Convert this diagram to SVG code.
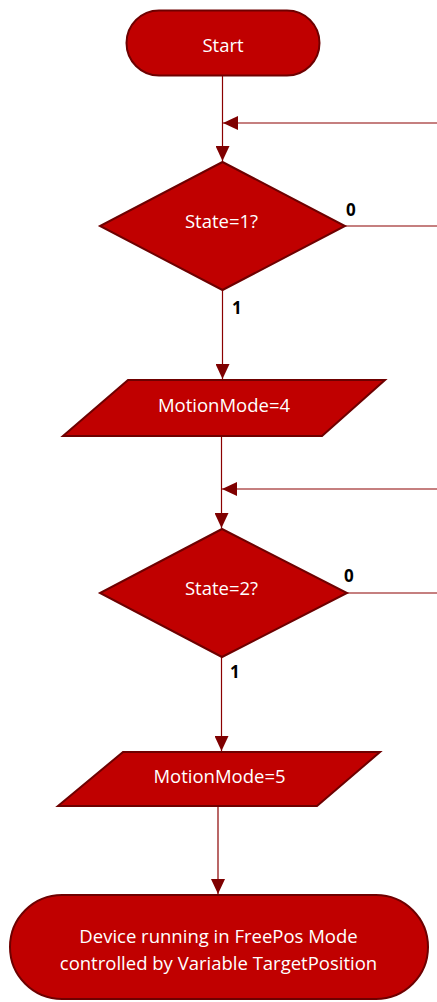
<svg xmlns="http://www.w3.org/2000/svg" width="437" height="1002" viewBox="0 0 437 1002">
<style>
.node{fill:#C00000;stroke:#6E0000;stroke-width:2}
.t{font-family:"Open Sans","Liberation Sans",sans-serif;font-size:18.5px;fill:#FFFFFF;text-anchor:middle}
.lbl{font-family:"Open Sans","Liberation Sans",sans-serif;font-size:17px;font-weight:bold;fill:#000000}
.c{fill:none;stroke:#8B0000;stroke-width:1.2}
</style>
<defs>
<marker id="ah" markerUnits="userSpaceOnUse" markerWidth="16" markerHeight="14" refX="15" refY="7" orient="auto">
<path d="M0,0 L15,7 L0,14 Z" fill="#7F0000"/>
</marker>
</defs>
<g id="connectors">
<path class="c" d="M222.5,75 V161" marker-end="url(#ah)"/>
<path class="c" d="M437,123 H223" marker-end="url(#ah)"/>
<path class="c" d="M345,226 H437"/>
<path class="c" d="M222.5,290 V379" marker-end="url(#ah)"/>
<path class="c" d="M221.5,436 V528" marker-end="url(#ah)"/>
<path class="c" d="M437,489 H222" marker-end="url(#ah)"/>
<path class="c" d="M347,593 H437"/>
<path class="c" d="M221.5,657 V751" marker-end="url(#ah)"/>
<path class="c" d="M218,806 V894" marker-end="url(#ah)"/>
</g>
<g id="start">
<rect class="node" x="126.5" y="10.5" width="193" height="65" rx="32.5"/>
<text class="t" x="223" y="52">Start</text>
</g>
<g id="decision1">
<polygon class="node" points="222.5,162 345,226 222.5,290 100,226"/>
<text class="t" x="221.5" y="228">State=1?</text>
<text class="lbl" x="346" y="216">0</text>
<text class="lbl" x="232" y="314">1</text>
</g>
<g id="motion4">
<polygon class="node" points="128,380 385,380 322,436 63,436"/>
<text class="t" x="224" y="412">MotionMode=4</text>
</g>
<g id="decision2">
<polygon class="node" points="222,529 347,593 222,657 100,593"/>
<text class="t" x="221.5" y="595">State=2?</text>
<text class="lbl" x="344" y="582">0</text>
<text class="lbl" x="230" y="678">1</text>
</g>
<g id="motion5">
<polygon class="node" points="123,752 380,752 317,806 58,806"/>
<text class="t" x="219.5" y="783">MotionMode=5</text>
</g>
<g id="end">
<rect class="node" x="10" y="895" width="418" height="104" rx="52"/>
<text class="t" x="218.5" y="943">Device running in FreePos Mode</text>
<text class="t" x="218.5" y="970">controlled by Variable TargetPosition</text>
</g>
</svg>
